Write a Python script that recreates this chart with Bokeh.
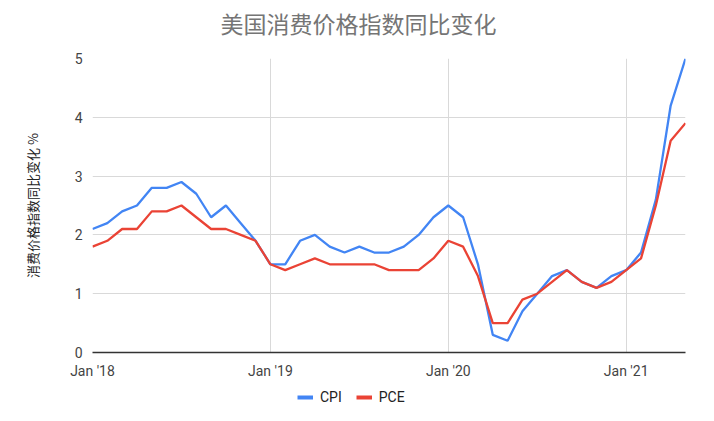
from bokeh.plotting import figure
from bokeh.layouts import column
from bokeh.models import Range1d, FixedTicker, Legend, LegendItem, Label
from bokeh.embed import file_html
from bokeh.resources import INLINE

months = ["2018-01","2018-02","2018-03","2018-04","2018-05","2018-06","2018-07","2018-08","2018-09","2018-10","2018-11","2018-12",
          "2019-01","2019-02","2019-03","2019-04","2019-05","2019-06","2019-07","2019-08","2019-09","2019-10","2019-11","2019-12",
          "2020-01","2020-02","2020-03","2020-04","2020-05","2020-06","2020-07","2020-08","2020-09","2020-10","2020-11","2020-12",
          "2021-01","2021-02","2021-03","2021-04","2021-05"]
cpi = [2.1, 2.2, 2.4, 2.5, 2.8, 2.8, 2.9, 2.7, 2.3, 2.5, 2.2, 1.9,
       1.5, 1.5, 1.9, 2.0, 1.8, 1.7, 1.8, 1.7, 1.7, 1.8, 2.0, 2.3,
       2.5, 2.3, 1.5, 0.3, 0.2, 0.7, 1.0, 1.3, 1.4, 1.2, 1.1, 1.3,
       1.4, 1.7, 2.6, 4.2, 5.0]
pce = [1.8, 1.9, 2.1, 2.1, 2.4, 2.4, 2.5, 2.3, 2.1, 2.1, 2.0, 1.9,
       1.5, 1.4, 1.5, 1.6, 1.5, 1.5, 1.5, 1.5, 1.4, 1.4, 1.4, 1.6,
       1.9, 1.8, 1.3, 0.5, 0.5, 0.9, 1.0, 1.2, 1.4, 1.2, 1.1, 1.2,
       1.4, 1.6, 2.5, 3.6, 3.9]
series_names = ["CPI", "PCE"]
series_colors = ["#4285F4", "#EA4335"]
tick_months = ["2018-01", "2019-01", "2020-01", "2021-01"]
tick_labels = ["Jan '18", "Jan '19", "Jan '20", "Jan '21"]
y_ticks = [0, 1, 2, 3, 4, 5]
title_text = "美国消费价格指数同比变化"

x = list(range(len(months)))
tick_pos = [months.index(m) for m in tick_months]

# title strip
tf = figure(width=706, height=40, output_backend="svg", toolbar_location=None,
            x_axis_type=None, y_axis_type=None, min_border=0,
            x_range=Range1d(0, 1), y_range=Range1d(0, 1))
tf.outline_line_color = None
tf.xgrid.visible = False
tf.ygrid.visible = False
tf.add_layout(Label(x=266, y=18, x_units="screen", y_units="screen", text=title_text,
                    text_align="center", text_baseline="middle",
                    text_font="Noto Sans CJK SC", text_font_size="23px", text_color="#757575"))

p = figure(width=706, height=341, output_backend="svg", toolbar_location=None,
           x_range=Range1d(0, len(months) - 1), y_range=Range1d(0, 5),
           min_border_left=92, min_border_right=21, min_border_top=18, min_border_bottom=28)

p.outline_line_color = None
p.background_fill_color = "white"

p.xaxis.ticker = FixedTicker(ticks=tick_pos)
p.xaxis.major_label_overrides = {tp: lab for tp, lab in zip(tick_pos, tick_labels)}
p.yaxis.ticker = FixedTicker(ticks=y_ticks)

for ax in (p.xaxis[0], p.yaxis[0]):
    ax.major_tick_line_color = None
    ax.minor_tick_line_color = None
    ax.major_label_text_font = "Roboto"
    ax.major_label_text_font_size = "14px"
    ax.major_label_text_color = "#444444"
p.xaxis.axis_line_color = "#333333"
p.xaxis.axis_line_width = 1.5
p.yaxis.axis_line_color = None
p.xaxis.major_label_standoff = 4
p.yaxis.major_label_standoff = 4

p.yaxis.axis_label = "消费价格指数同比变化 %"
p.yaxis.axis_label_text_font = "Noto Sans CJK SC"
p.yaxis.axis_label_text_font_style = "normal"
p.yaxis.axis_label_text_font_size = "13px"
p.yaxis.axis_label_text_color = "#222222"
p.yaxis.axis_label_standoff = 30

p.xgrid.ticker = FixedTicker(ticks=tick_pos)
p.xgrid.grid_line_color = "#d9d9d9"
p.ygrid.grid_line_color = "#d9d9d9"

p.line(x, cpi, line_color=series_colors[0], line_width=2.3)
p.line(x, pce, line_color=series_colors[1], line_width=2.3)

# legend strip below the chart
lf = figure(width=706, height=32, output_backend="svg", toolbar_location=None,
            x_axis_type=None, y_axis_type=None, min_border=0,
            x_range=Range1d(0, 1), y_range=Range1d(0, 1))
lf.outline_line_color = None
lf.xgrid.visible = False
lf.ygrid.visible = False
items = []
for name, col in zip(series_names, series_colors):
    r = lf.line([-5, -4], [-5, -4], line_color=col, line_width=4)
    items.append(LegendItem(label=name, renderers=[r]))
legend = Legend(items=items, orientation="horizontal", location=(205, 8),
                label_text_font="Roboto", label_text_font_size="14px", label_text_color="#222222",
                glyph_width=16, glyph_height=14, spacing=14, padding=0, margin=0,
                label_standoff=7, border_line_color=None, background_fill_alpha=0)
lf.add_layout(legend, "center")

layout = column(tf, p, lf, spacing=0)
open("out.html", "w").write(file_html(layout, INLINE))
